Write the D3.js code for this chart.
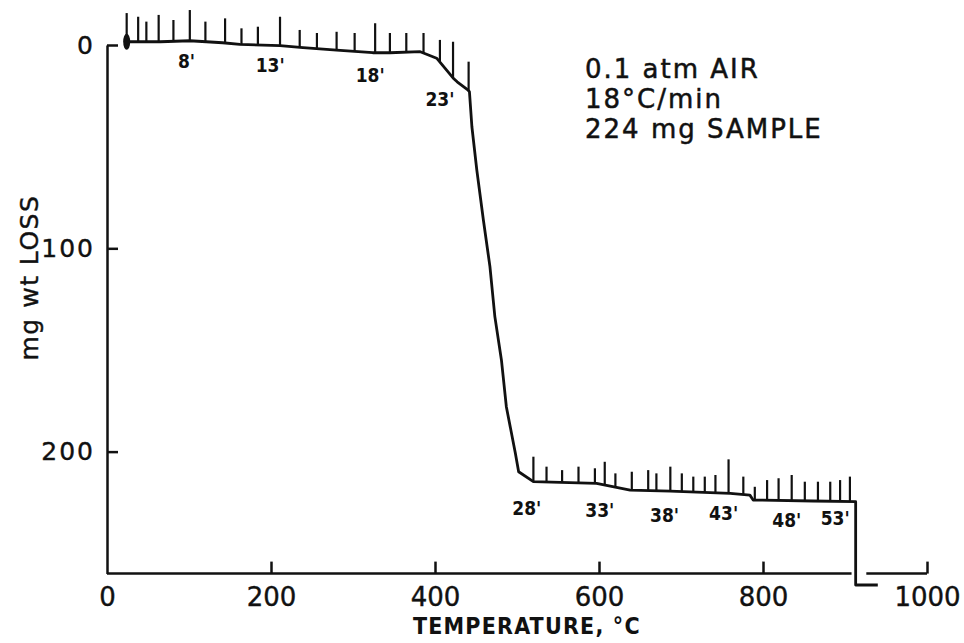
<!DOCTYPE html>
<html>
<head>
<meta charset="utf-8">
<script src="https://cdn.jsdelivr.net/npm/d3@7"></script>
<style>
  body { margin: 0; background: #fff; }
  svg { display: block; }
  text { fill: #111; font-family: 'DejaVu Sans', sans-serif; }
  .tick text { font-size: 26px; stroke: #111; stroke-width: 0.4px; }
  .min-label { font-family: 'DejaVu Sans Condensed', 'DejaVu Sans', sans-serif; font-weight: bold; font-size: 19px; }
  .note { stroke: #111; stroke-width: 0.5px; }
</style>
</head>
<body>
<svg width="964" height="643"></svg>
<script>
// TGA curve, temperature (C) vs weight loss (mg)
const curveT  = [22, 65, 101, 141, 162, 211, 239, 280, 324, 345, 382, 402, 422, 427, 440,
                 442, 445, 451, 459, 467, 473, 481, 487, 498, 502,
                 520, 597, 638, 687, 760, 784, 788, 861, 913, 913, 940];
const curveMg = [-1.6, -1.6, -2.1, -1.1, -0.3, 0.3, 1.3, 2.5, 3.8, 3.8, 3.3, 6.5, 16.2, 18.1, 22.1,
                 23, 40.2, 61.5, 86.1, 109, 133.6, 154.9, 177.9, 200.8, 209.9,
                 214.8, 215.6, 218.9, 219.4, 220.5, 221.4, 223.8, 224.3, 224.6, 265.6, 265.6];

// one mark per minute: temperature and the top of the pen stroke (mg)
const markT   = [24, 38, 48, 63, 81, 101, 120, 144, 164, 184, 211, 235, 256, 280, 302, 327,
                 345, 365, 386, 406, 422, 441,
                 520, 536, 555, 575, 595, 607, 620, 640, 660, 670, 687, 701, 715, 729, 742, 758,
                 776, 790, 805, 819, 835, 851, 867, 882, 894, 906];
const markTop = [-15.7, -13.9, -11.5, -14.8, -12.3, -17.2, -11.5, -13.1, -8.2, -9, -13.9, -7.4, -5.9, -6.5, -5.9, -10.7,
                 -5.9, -5.9, -5.9, -2.5, -1.6, 8.2,
                 202.5, 207.4, 209.1, 207.4, 208.2, 205, 210.7, 209.9, 209.1, 210.7, 207.4, 210.7, 212.3, 212.3, 211.5, 203.8,
                 212.3, 217.3, 214, 213.1, 211.5, 214.8, 214.8, 214.8, 214, 212.3];

const minuteLabels = ["8'", "13'", "18'", "23'", "28'", "33'", "38'", "43'", "48'", "53'"];
const labelT  = [97, 199, 321, 406, 512, 601, 680, 752, 829, 888];
const labelMg = [7.9, 9.8, 14.8, 26.6, 227.7, 228.7, 231.2, 230.2, 233.6, 232.6];

const xTicks = [0, 200, 400, 600, 800, 1000];
const yTicks = [0, 100, 200];
// the temperature axis is broken where the pen dropped off
const xAxisParts = [[0, 908], [926, 1000]];

const notes = ['0.1 atm AIR', '18°C/min', '224 mg SAMPLE'];

const svg = d3.select('svg');
const margin = { top: 45, left: 107 };
const innerWidth = 820;
const innerHeight = 528.6;

const x = d3.scaleLinear().domain([0, 1000]).range([0, innerWidth]);
const y = d3.scaleLinear().domain([0, 260]).range([0, innerHeight]);

const g = svg.append('g')
    .attr('transform', `translate(${margin.left},${margin.top})`);

// y axis
const yAxisG = g.append('g')
    .call(d3.axisLeft(y).tickValues(yTicks).tickSize(-11).tickSizeOuter(0).tickPadding(12));
yAxisG.selectAll('path, line').attr('stroke', '#111').attr('stroke-width', 2.5);
yAxisG.selectAll('text').style('font-size', '25px').style('letter-spacing', '2px');

g.append('text')
    .attr('transform', `translate(-69,${innerHeight * 0.44}) rotate(-90)`)
    .attr('text-anchor', 'middle')
    .style('font-size', '25px')
    .style('letter-spacing', '1.5px')
    .style('stroke', '#111')
    .style('stroke-width', '0.4px')
    .text('mg wt LOSS');

// x axis
const xAxisG = g.append('g')
    .attr('transform', `translate(0,${innerHeight})`)
    .call(d3.axisBottom(x).tickValues(xTicks).tickFormat(d3.format('d')).tickSize(-12).tickPadding(14));
xAxisG.select('.domain').remove();
xAxisG.selectAll('line').attr('stroke', '#111').attr('stroke-width', 2.5);
xAxisG.selectAll('.tick').filter(d => d === 0).select('line').remove();
xAxisG.selectAll('.axis-part').data(xAxisParts)
  .enter().append('line')
    .attr('x1', d => x(d[0]))
    .attr('x2', d => x(d[1]))
    .attr('stroke', '#111')
    .attr('stroke-width', 2.5);

g.append('text')
    .attr('x', x(512))
    .attr('y', innerHeight + 60)
    .attr('text-anchor', 'middle')
    .style('font-family', "'DejaVu Sans Condensed', 'DejaVu Sans', sans-serif")
    .style('font-weight', 'bold')
    .style('font-size', '23px')
    .style('letter-spacing', '1.2px')
    .text('TEMPERATURE, °C');

// curve
const curve = curveT.map((t, i) => [t, curveMg[i]]);
const line = d3.line().x(d => x(d[0])).y(d => y(d[1]));
g.append('path')
    .datum(curve)
    .attr('fill', 'none')
    .attr('stroke', '#111')
    .attr('stroke-width', 2.8)
    .attr('stroke-linejoin', 'round')
    .attr('d', line);

const curveAt = t => {
    for (let i = 1; i < curve.length; i++) {
        if (t <= curve[i][0]) {
            const [t0, m0] = curve[i - 1];
            const [t1, m1] = curve[i];
            return t1 === t0 ? m0 : m0 + (m1 - m0) * (t - t0) / (t1 - t0);
        }
    }
    return curve[curve.length - 1][1];
};

// minute marks
g.selectAll('.mark').data(markT)
  .enter().append('line')
    .attr('class', 'mark')
    .attr('x1', d => x(d))
    .attr('x2', d => x(d))
    .attr('y1', d => y(curveAt(d)))
    .attr('y2', (d, i) => y(markTop[i]))
    .attr('stroke', '#111')
    .attr('stroke-width', 2.2);

// starting blob of the pen
g.append('ellipse')
    .attr('cx', x(markT[0]))
    .attr('cy', y(curveAt(markT[0])))
    .attr('rx', 3.5)
    .attr('ry', 8)
    .attr('fill', '#111');

g.selectAll('.min-label').data(minuteLabels)
  .enter().append('text')
    .attr('class', 'min-label')
    .attr('x', (d, i) => x(labelT[i]))
    .attr('y', (d, i) => y(labelMg[i]))
    .attr('dy', '0.36em')
    .attr('text-anchor', 'middle')
    .text(d => d);

// conditions
g.selectAll('.note').data(notes)
  .enter().append('text')
    .attr('class', 'note')
    .attr('x', 478)
    .attr('y', (d, i) => 33 + i * 30)
    .style('font-size', '26px')
    .style('letter-spacing', '2px')
    .text(d => d);
</script>
</body>
</html>
